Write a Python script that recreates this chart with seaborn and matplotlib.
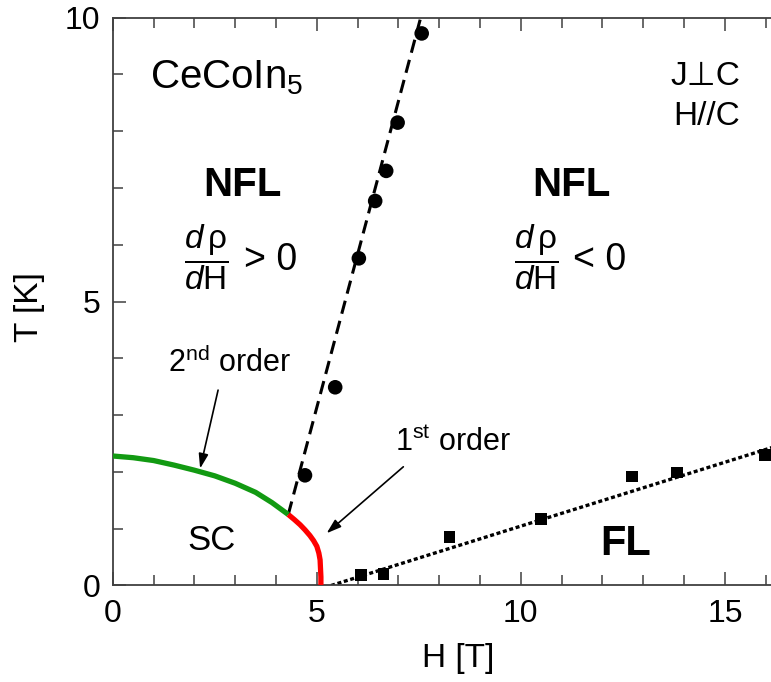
import numpy as np
import pandas as pd
import matplotlib
matplotlib.use("Agg")
import matplotlib.pyplot as plt
from matplotlib.ticker import MultipleLocator
import seaborn as sns

# ---- data: CeCoIn5 H-T phase diagram (J perp c, H // c) ----
# NFL crossover (dρ/dH sign change), circles
circ_H = [4.71, 5.45, 6.03, 6.43, 6.70, 6.98, 7.57]
circ_T = [1.94, 3.49, 5.76, 6.77, 7.30, 8.15, 9.72]

# Fermi-liquid onset, squares
sq_H = [6.08, 6.63, 8.25, 10.50, 12.72, 13.82, 15.99]
sq_T = [0.19, 0.20, 0.85, 1.17, 1.92, 1.99, 2.30]

# superconducting boundary: 2nd order part
second_H = [0.0, 0.5, 1.0, 1.5, 2.0, 2.5, 3.0, 3.5, 3.9, 4.30]
second_T = [2.28, 2.25, 2.20, 2.12, 2.03, 1.93, 1.80, 1.64, 1.46, 1.25]

# superconducting boundary: 1st order part
first_H = [4.30, 4.45, 4.59, 4.71, 4.83, 4.92, 5.00, 5.05, 5.08, 5.09, 5.10, 5.10]
first_T = [1.25, 1.16, 1.07, 0.98, 0.88, 0.79, 0.69, 0.57, 0.45, 0.30, 0.15, 0.0]

# guide lines through the crossover points
dash_H = [4.30, 7.62]
dash_T = [1.25, 10.2]
dot_H = [5.35, 16.2]
dot_T = [0.0, 2.44]

x_ticks = [0, 5, 10, 15]
y_ticks = [0, 5, 10]

sns.set_style("white")
plt.rcParams["font.family"] = ["Liberation Sans", "DejaVu Sans"]
plt.rcParams["text.color"] = "black"
plt.rcParams["axes.labelcolor"] = "black"
plt.rcParams["mathtext.fontset"] = "custom"
plt.rcParams["mathtext.rm"] = "Liberation Sans"
plt.rcParams["mathtext.it"] = "Liberation Sans:italic"
plt.rcParams["mathtext.bf"] = "Liberation Sans:bold"

fig = plt.figure(figsize=(7.71, 6.82), dpi=100)
ax = fig.add_axes([0.1463, 0.1415, 0.8537, 0.8328])

axis_col = "#404040"

# guide lines
ax.plot(dash_H, dash_T, color="black", linewidth=2.2, linestyle=(0, (4.4, 2.4)),
        dash_capstyle="butt", zorder=2)
ax.plot(dot_H, dot_T, color="black", linewidth=2.4, linestyle=(0, (1.2, 0.8)),
        dash_capstyle="butt", zorder=2)

# phase boundary curves
ax.plot(second_H, second_T, color="#129a12", linewidth=3.8,
        solid_capstyle="butt", solid_joinstyle="round", zorder=4)
ax.plot(first_H, first_T, color="#ff0000", linewidth=3.8,
        solid_capstyle="butt", solid_joinstyle="round", zorder=4)

# data points
circ = pd.DataFrame({"H": circ_H, "T": circ_T})
sq = pd.DataFrame({"H": sq_H, "T": sq_T})
sns.scatterplot(data=circ, x="H", y="T", ax=ax, marker="o", s=10.5 ** 2,
                color="black", edgecolor="none", zorder=5)
sns.scatterplot(data=sq, x="H", y="T", ax=ax, marker="s", s=8.4 ** 2,
                color="black", edgecolor="none", zorder=5)

ax.set_xlim(0, 16.13)
ax.set_ylim(0, 10)
ax.set_xticks(x_ticks)
ax.set_yticks(y_ticks)
ax.set_xticklabels([str(v) for v in x_ticks])
ax.set_yticklabels([str(v) for v in y_ticks])
ax.xaxis.set_minor_locator(MultipleLocator(1))
ax.yaxis.set_minor_locator(MultipleLocator(1))

ax.tick_params(axis="both", which="both", direction="in", colors=axis_col,
               labelcolor="black", labelsize=23, width=1.1)
ax.tick_params(axis="x", which="both", top=True, bottom=True, pad=10)
ax.tick_params(axis="y", which="both", left=True, right=False, pad=9)
ax.tick_params(which="major", length=9.5)
ax.tick_params(which="minor", length=7)

for side in ["left", "bottom", "top"]:
    ax.spines[side].set_color(axis_col)
    ax.spines[side].set_linewidth(1.3)
ax.spines["right"].set_visible(False)

ax.set_xlabel("H [T]", fontsize=24, color="black")
ax.set_ylabel("T [K]", fontsize=24, color="black")
ax.xaxis.set_label_coords(0.5245, -0.102)
ax.yaxis.set_label_coords(-0.103, 0.49)

# annotations
ax.text(0.91, 8.76, r"CeCoIn$_\mathregular{5}$", fontsize=29, ha="left", va="baseline")
ax.text(15.37, 8.81, "J⊥C", fontsize=24, ha="right", va="baseline")
ax.text(15.37, 8.11, "H//C", fontsize=24, ha="right", va="baseline")

ax.text(3.18, 6.85, "NFL", fontsize=29, fontweight="bold", ha="center", va="baseline")
ax.text(2.30, 5.77, r"$\dfrac{d\,\mathrm{ρ}}{d\mathrm{H}}$", fontsize=24,
        ha="center", va="center")
ax.text(3.22, 5.55, "> 0", fontsize=27, ha="left", va="baseline")

ax.text(11.25, 6.85, "NFL", fontsize=29, fontweight="bold", ha="center", va="baseline")
ax.text(10.38, 5.77, r"$\dfrac{d\,\mathrm{ρ}}{d\mathrm{H}}$", fontsize=24,
        ha="center", va="center")
ax.text(11.27, 5.55, "< 0", fontsize=27, ha="left", va="baseline")

ax.text(2.41, 0.625, "SC", fontsize=25, ha="center", va="baseline")
ax.text(12.57, 0.54, "FL", fontsize=30, fontweight="bold", ha="center", va="baseline")

ax.text(1.36, 3.76, r"2$^\mathregular{nd}$ order", fontsize=22, ha="left", va="baseline")
ax.text(6.92, 2.36, r"1$^\mathregular{st}$ order", fontsize=22, ha="left", va="baseline")

arrow_style = dict(arrowstyle="-|>,head_length=0.55,head_width=0.18",
                   color="black", lw=1.2, mutation_scale=16, shrinkA=0, shrinkB=0)
ax.annotate("", xy=(2.14, 2.06), xytext=(2.58, 3.44), arrowprops=arrow_style)
ax.annotate("", xy=(5.24, 0.92), xytext=(7.12, 2.09), arrowprops=arrow_style)

fig.savefig("out.png", dpi=100)
